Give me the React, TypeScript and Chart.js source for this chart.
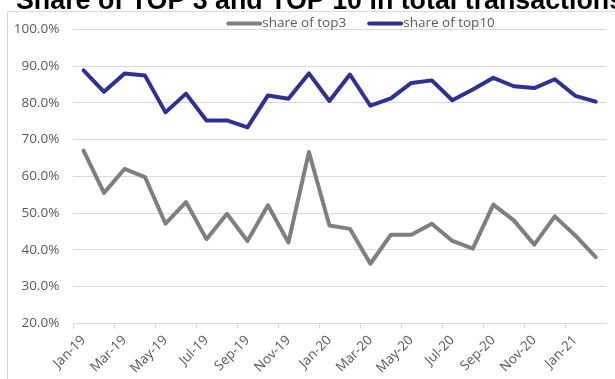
import React, { useEffect, useRef } from "react";
import { Chart, registerables } from "chart.js";

Chart.register(...registerables);

const TITLE = "Share of TOP 3 and TOP 10 in total transactions";

const months = [
  "Jan-19", "Feb-19", "Mar-19", "Apr-19", "May-19", "Jun-19", "Jul-19", "Aug-19",
  "Sep-19", "Oct-19", "Nov-19", "Dec-19", "Jan-20", "Feb-20", "Mar-20", "Apr-20",
  "May-20", "Jun-20", "Jul-20", "Aug-20", "Sep-20", "Oct-20", "Nov-20", "Dec-20",
  "Jan-21", "Feb-21",
];

const seriesNames = ["share of top3", "share of top10"];

const top3 = [
  67.0, 55.5, 62.0, 59.8, 47.1, 53.0, 42.9, 49.8, 42.4, 52.1, 42.0, 66.6, 46.6,
  45.7, 36.2, 44.1, 44.1, 47.1, 42.4, 40.3, 52.3, 48.0, 41.4, 49.1, 43.9, 38.0,
];

const top10 = [
  88.8, 83.0, 88.0, 87.4, 77.4, 82.5, 75.2, 75.2, 73.3, 82.0, 81.1, 88.0, 80.5,
  87.7, 79.2, 81.2, 85.4, 86.1, 80.7, 83.6, 86.8, 84.5, 84.0, 86.4, 81.9, 80.3,
];

const yMin = 20;
const yMax = 100;
const yStep = 10;

const colors = ["#7f7f7f", "#2e3192"];
const textColor = "#595959";
const gridColor = "#d9d9d9";
const FONT_FAMILY = '"Open Sans", "Liberation Sans", sans-serif';

export default function App() {
  const ref = useRef<HTMLCanvasElement>(null);

  useEffect(() => {
    document.body.style.margin = "0";
    const canvas = ref.current;
    if (!canvas) return;

    const decor = {
      id: "decor",
      beforeDraw(chart: any) {
        const ctx = chart.ctx as CanvasRenderingContext2D;
        ctx.save();
        ctx.fillStyle = "#ffffff";
        ctx.fillRect(0, 0, chart.width, chart.height);
        ctx.strokeStyle = gridColor;
        ctx.lineWidth = 1;
        ctx.beginPath();
        ctx.moveTo(7.5, chart.height);
        ctx.lineTo(7.5, 11.5);
        ctx.lineTo(chart.width, 11.5);
        ctx.stroke();
        ctx.restore();
      },
      afterDraw(chart: any) {
        const ctx = chart.ctx as CanvasRenderingContext2D;
        const area = chart.chartArea;
        ctx.save();
        ctx.fillStyle = "#000000";
        ctx.font = 'bold 26.8px "Liberation Sans", Arial, sans-serif';
        ctx.textAlign = "left";
        ctx.textBaseline = "alphabetic";
        ctx.fillText(TITLE, 16, 9);

        ctx.font = `13.5px ${FONT_FAMILY}`;
        ctx.textBaseline = "middle";
        const ly = 23.5;
        let x = area.left + 153;
        chart.data.datasets.forEach((ds: any) => {
          ctx.strokeStyle = ds.borderColor;
          ctx.lineWidth = 4;
          ctx.lineCap = "round";
          ctx.beginPath();
          ctx.moveTo(x + 2, ly);
          ctx.lineTo(x + 34, ly);
          ctx.stroke();
          ctx.fillStyle = textColor;
          ctx.fillText(ds.label, x + 36, ly);
          x += 36 + ctx.measureText(ds.label).width + 21;
        });
        ctx.restore();
      },
    };

    const chart = new Chart(canvas, {
      type: "line",
      data: {
        labels: months,
        datasets: [
          {
            label: seriesNames[0],
            data: top3,
            borderColor: colors[0],
            backgroundColor: colors[0],
            borderWidth: 4,
            pointRadius: 0,
            tension: 0,
            borderJoinStyle: "round",
            borderCapStyle: "round",
          },
          {
            label: seriesNames[1],
            data: top10,
            borderColor: colors[1],
            backgroundColor: colors[1],
            borderWidth: 4,
            pointRadius: 0,
            tension: 0,
            borderJoinStyle: "round",
            borderCapStyle: "round",
          },
        ],
      },
      options: {
        responsive: false,
        animation: false,
        devicePixelRatio: 1,
        layout: { padding: { top: 29.3, right: 9, left: 0, bottom: 0 } },
        plugins: {
          legend: { display: false },
          title: { display: false },
          tooltip: { enabled: false },
        },
        scales: {
          x: {
            type: "category",
            offset: true,
            grid: {
              offset: true,
              drawOnChartArea: false,
              drawTicks: true,
              tickLength: 5,
              color: (c: any) => (c.index % 2 === 0 ? gridColor : "rgba(0,0,0,0)"),
            },
            border: { display: true, color: gridColor, width: 1 },
            ticks: {
              autoSkip: false,
              maxRotation: 45,
              minRotation: 45,
              padding: 4,
              color: textColor,
              font: { family: FONT_FAMILY, size: 13.5 },
              callback: (_v: any, i: number) => (i % 2 === 0 ? months[i] : ""),
            },
            afterFit: (s: any) => {
              s.height = 55.7;
            },
          },
          y: {
            min: yMin,
            max: yMax,
            ticks: {
              stepSize: yStep,
              padding: 14,
              color: textColor,
              font: { family: FONT_FAMILY, size: 13.5 },
              callback: (v: any) => Number(v).toFixed(1) + "%",
            },
            grid: { color: gridColor, drawTicks: false, lineWidth: 1 },
            border: { display: false },
            afterFit: (s: any) => {
              s.width = 73.3;
            },
          },
        },
      },
      plugins: [decor],
    } as any);

    return () => chart.destroy();
  }, []);

  return (
    <div style={{ position: "fixed", left: 0, top: 0, width: 615, height: 379, background: "#fff" }}>
      <canvas ref={ref} width={615} height={379} style={{ display: "block", width: 615, height: 379 }} />
    </div>
  );
}
